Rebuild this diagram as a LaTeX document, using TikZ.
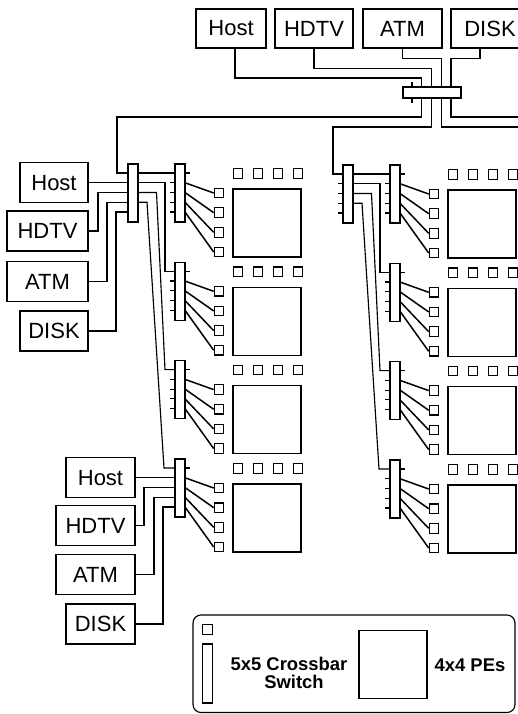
\documentclass[tikz,border=0pt]{standalone}
\usepackage{fontspec}
\setmainfont{Liberation Sans}
\usetikzlibrary{calc}
\tikzset{
  wire/.style={line width=1.15pt},
  diag/.style={line width=1.5pt},
  box/.style={draw, line width=1.15pt, inner sep=0pt, minimum height=39pt, font=\fontsize{22}{24}\selectfont},
  xbar/.style={draw, fill=white, line width=1.15pt, inner sep=0pt, minimum width=10pt, minimum height=58pt},
  hbar/.style={draw, fill=white, line width=1.15pt, inner sep=0pt, minimum width=58pt, minimum height=11pt},
  port/.style={draw, line width=1.15pt, inner sep=0pt, minimum size=9.5pt},
  pe/.style={draw, line width=1.15pt, inner sep=0pt, minimum size=68pt},
  legtext/.style={font=\fontsize{18.4}{17.5}\selectfont\bfseries, align=center, inner sep=0pt}
}
% vertical crossbar: name, left x, top y
\newcommand\xbarV[3]{%
  \node[xbar] (#1) at (#2+5,#3+29) {};
  \foreach \k in {0,...,4}{%
    \coordinate (#1-L\k) at (#2,#3+9+9.75*\k);
    \coordinate (#1-R\k) at (#2+10,#3+9+9.75*\k);
  }%
}
% left ticks
\newcommand\lticks[1]{%
  \foreach \k in {1,...,4}{\draw[wire] (#1-L\k) -- ++(-5,0);}%
}
% row of PEs: name, crossbar left x, crossbar top y
\newcommand\perow[3]{%
  \xbarV{#1}{#2}{#3}
  \draw[wire] (#1-R0) -- ++(5,0);
  \foreach \k in {1,...,4}{%
    \node[port] (#1-p\k) at (#2+44,#3+29+19.67*\k-19.67) {};
    \draw[diag] (#1-R\k) -- (#1-p\k.west);
  }%
  \foreach \k in {0,...,3}{\node[port] (#1-s\k) at (#2+63+20*\k,#3+9.5) {};}%
  \node[pe] (#1-pe) at (#2+92,#3+59) {};
}
% wires from a 5x5 switch to the four rows
\newcommand\colwires[2]{%
  \draw[wire] (#1-R0) -- (#21-L0);
  \draw[wire] (#1-R1) -| ([xshift=-10pt]#22-L0) -- (#22-L0);
  \draw[wire] (#1-R2) -- ++(18.5,0) -- ([xshift=-10pt]#23-L0) -- (#23-L0);
  \draw[wire] (#1-R3) -- ++(9,0) -- ([xshift=-11pt]#24-L0) -- (#24-L0);
}
\begin{document}
\begin{tikzpicture}[x=1pt,y=-1pt]
\useasboundingbox (0,0) rectangle (518,714);
\clip (0,0) rectangle (518,714);

% ---- top I/O boxes and top switch
\node[box, minimum width=70pt] (th)  at (231,28.5)   {Host};
\node[box, minimum width=78pt] (thd) at (314,28.5)   {HDTV};
\node[box, minimum width=79pt] (ta)  at (402.5,28.5) {ATM};
\node[box, minimum width=78pt] (td)  at (490,28.5)   {DISK};

\node[hbar] (TB) at (432,92.5) {};
\foreach \k in {0,...,4}{%
  \coordinate (TB-T\k) at (412+9.75*\k,87);
  \coordinate (TB-B\k) at (412+9.75*\k,98);
}
\draw[wire] (TB-T0) -- ++(0,-5);
\draw[wire] (TB-B0) -- ++(0,5);

% ---- columns
\xbarV{LB}{128}{164}
\xbarV{RB}{343}{165}
\lticks{RB}

\perow{L1}{175}{164}
\perow{L2}{175}{262.3}
\perow{L3}{175}{360.6}
\perow{L4}{175}{459}
\lticks{L1}\lticks{L2}\lticks{L3}

\perow{R1}{390}{165}
\perow{R2}{390}{263.3}
\perow{R3}{390}{361.6}
\perow{R4}{390}{460}
\lticks{R1}\lticks{R2}\lticks{R3}\lticks{R4}

\colwires{LB}{L}
\colwires{RB}{R}

% ---- wires from top boxes into top switch
\draw[wire] ([xshift=4pt]th.south) -- ++(0,29.5) -| (TB-T1);
\draw[wire] (thd.south) -- ++(0,20) -| (TB-T2);
\draw[wire] (ta.south) -- ++(0,10) -| (TB-T3);
\draw[wire] ([xshift=-10pt]td.south) -- ++(0,10) -| (TB-T4);

% ---- wires out of top switch
\coordinate (eA) at (530,127);
\coordinate (eB) at (530,117);
\draw[wire] (TB-B1) -- ++(0,19) -| ([xshift=-11pt]LB-L0) -- (LB-L0);
\draw[wire] (TB-B2) -- ++(0,29) -| ([xshift=-10pt]RB-L0) -- (RB-L0);
\draw[wire] (TB-B3) |- (eA);
\draw[wire] (TB-B4) |- (eB);

% ---- left I/O boxes (upper group)
\node[box, minimum width=68pt, minimum height=40pt] (lh)  at (54,182.75) {Host};
\node[box, minimum width=81pt, minimum height=40pt] (lhd) at (47.5,231)  {HDTV};
\node[box, minimum width=81pt, minimum height=40pt] (la)  at (47.5,281.5){ATM};
\node[box, minimum width=68pt, minimum height=40pt] (ld)  at (54,331)    {DISK};
\draw[wire] (lh.east) -- (LB-L1);
\draw[wire] (lhd.east) -| ([xshift=-30pt]LB-L2) -- (LB-L2);
\draw[wire] (la.east) -| ([xshift=-21pt]LB-L3) -- (LB-L3);
\draw[wire] (ld.east) -| ([xshift=-12pt]LB-L4) -- (LB-L4);

% ---- left I/O boxes (lower group)
\node[box, minimum width=69pt, minimum height=40pt] (bh)  at (100.5,477.75) {Host};
\node[box, minimum width=79pt, minimum height=40pt] (bhd) at (95.5,525.5)   {HDTV};
\node[box, minimum width=79pt, minimum height=40pt] (ba)  at (95.5,574.5)   {ATM};
\node[box, minimum width=69pt, minimum height=40pt] (bd)  at (100.5,624)    {DISK};
\draw[wire] (bh.east) -- (L4-L1);
\draw[wire] (bhd.east) -| ([xshift=-31pt]L4-L2) -- (L4-L2);
\draw[wire] (ba.east) -| ([xshift=-21pt]L4-L3) -- (L4-L3);
\draw[wire] (bd.east) -| ([xshift=-12pt]L4-L4) -- (L4-L4);

% ---- legend
\draw[wire, rounded corners=8pt] (193,615) rectangle (515,712.5);
\node[port] (lgp) at (207.5,629.5) {};
\node[draw, line width=1.15pt, inner sep=0pt, minimum width=9.5pt, minimum height=59pt] (lgx) at (207.5,673.5) {};
\node[pe] (lgpe) at (393,664.5) {};
\node[legtext] (lgt1) at (289,673) {5x5 Crossbar\\\hspace*{10pt}Switch};
\node[legtext] (lgt2) at (470,665) {4x4 PEs};
\end{tikzpicture}
\end{document}
